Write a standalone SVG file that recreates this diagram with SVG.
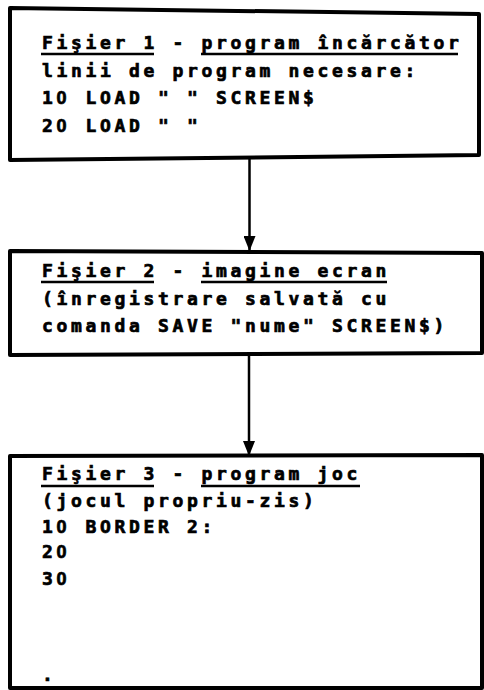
<svg xmlns="http://www.w3.org/2000/svg" width="484" height="690" viewBox="0 0 484 690">
<style>
.box{fill:#fff;stroke:#000;stroke-width:4;stroke-linejoin:round}
.t{font-family:"DejaVu Sans Mono","Liberation Mono",monospace;font-weight:bold;font-size:18px;letter-spacing:3.66px;fill:#000;stroke:#000;stroke-width:0.7}
.z{font-family:"Liberation Sans",Arial,sans-serif;letter-spacing:4.5px}
.ul{stroke:#000;stroke-width:2.5}
.conn{stroke:#000;stroke-width:2.5;fill:none}
</style>
<defs>
<marker id="ah" markerWidth="15" markerHeight="12" refX="15" refY="6" orient="auto" markerUnits="userSpaceOnUse" viewBox="0 0 15 12">
<path d="M0,0 L15,6 L0,12 Z" fill="#000"/>
</marker>
</defs>
<rect width="484" height="690" fill="#fff"/>
<g id="node1">
<polygon class="box" points="10,8 479,14 479,155 10,160"/>
<text class="t" x="42" y="49">Fişier 1 - program încărcător</text>
<line class="ul" x1="41" y1="54" x2="154" y2="54"/>
<line class="ul" x1="201" y1="54" x2="458" y2="54"/>
<text class="t" x="42" y="77">linii de program necesare:</text>
<text class="t" x="42" y="104">1<tspan class="z">0</tspan> LOAD " " SCREEN$</text>
<text class="t" x="42" y="132">2<tspan class="z">0</tspan> LOAD " "</text>
</g>
<g id="node2">
<polygon class="box" points="10,251 482,253 482,353 10,355"/>
<text class="t" x="42" y="277">Fişier 2 - imagine ecran</text>
<line class="ul" x1="41" y1="282" x2="154" y2="282"/>
<line class="ul" x1="201" y1="282" x2="387" y2="282"/>
<text class="t" x="42" y="305">(înregistrare salvată cu</text>
<text class="t" x="42" y="332">comanda SAVE "nume" SCREEN$)</text>
</g>
<g id="node3">
<polygon class="box" points="10,456 482,455 482,688 10,688"/>
<text class="t" x="42" y="480">Fişier 3 - program joc</text>
<line class="ul" x1="41" y1="486" x2="154" y2="486"/>
<line class="ul" x1="201" y1="486" x2="360" y2="486"/>
<text class="t" x="42" y="507">(jocul propriu-zis)</text>
<text class="t" x="42" y="533">1<tspan class="z">0</tspan> BORDER 2:</text>
<text class="t" x="42" y="558">2<tspan class="z">0</tspan></text>
<text class="t" x="42" y="585">3<tspan class="z">0</tspan></text>
<text class="t" x="42" y="681">.</text>
</g>
<g id="connectors">
<line class="conn" x1="249.5" y1="158" x2="249.5" y2="251" marker-end="url(#ah)"/>
<line class="conn" x1="249" y1="353" x2="249" y2="456" marker-end="url(#ah)"/>
</g>
</svg>
